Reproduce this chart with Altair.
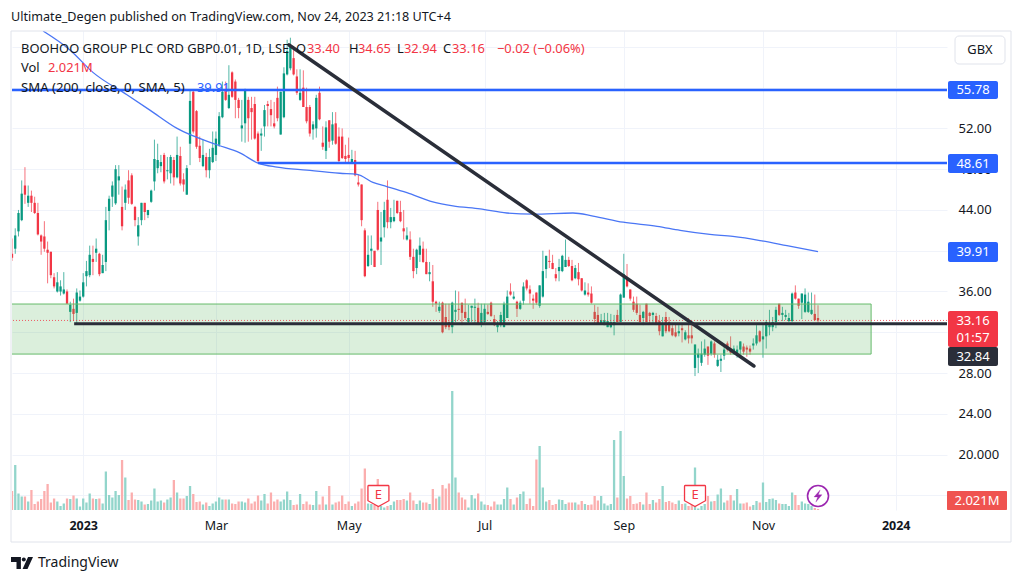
import altair as alt
import pandas as pd

FONT = "Noto Sans"
UP, DOWN = "#089981", "#f23645"
UPV, DOWNV = "#92d5cb", "#fbaeae"
BLUE = "#2962ff"
DARK = "#2a2e39"

opens = [39.7,40.2,41.9,43.0,46.4,44.7,45.4,44.7,43.7,41.5,
 41.4,40.1,39.9,37.4,36.0,36.0,35.8,36.0,34.0,34.3,
 33.9,35.1,35.5,37.5,37.6,39.2,39.8,39.7,37.8,38.9,
 43.9,45.3,44.65,46.9,44.3,44.7,46.9,47.4,44.3,41.4,
 43.0,44.7,43.5,44.8,46.8,48.1,48.3,49.4,47.8,47.6,
 48.9,47.2,49.3,47.0,45.5,50.5,55.6,53.7,50.3,48.3,
 49.2,47.9,48.7,49.4,50.4,53.1,55.8,54.0,57.5,56.6,
 54.8,52.0,52.5,54.8,54.0,54.4,51.5,51.3,52.2,54.4,
 53.9,52.5,55.0,51.4,53.1,57.3,57.9,58.9,57.1,54.8,
 56.0,54.1,54.1,51.9,52.0,55.5,50.6,49.8,52.8,50.8,
 52.5,51.2,51.2,49.3,49.4,48.7,48.9,46.7,46.5,42.0,
 38.5,40.0,40.0,44.0,40.9,42.3,45.0,42.8,42.9,44.9,
 43.8,42.2,41.1,41.1,39.4,38.3,39.6,40.2,38.9,37.7,
 37.0,35.0,34.1,34.9,33.5,33.0,32.5,34.0,34.3,34.9,
 34.0,33.0,34.4,34.4,34.4,32.8,33.0,34.0,34.9,33.3,
 32.5,32.7,32.5,33.4,36.0,35.3,35.0,34.3,35.1,37.1,
 36.2,35.3,35.9,34.6,35.5,38.2,39.0,38.8,37.7,38.0,
 38.0,38.4,39.1,38.5,37.3,37.9,37.3,35.7,35.9,35.8,
 34.0,33.7,32.8,32.7,32.5,32.5,32.7,33.7,33.0,35.4,
 37.4,36.2,35.0,34.8,33.7,33.4,34.8,33.9,33.7,33.6,
 33.1,31.6,33.5,33.0,32.4,32.0,31.9,32.4,31.3,31.7,
 31.7,28.5,29.5,29.0,29.8,30.6,29.9,30.9,28.7,29.2,
 29.7,30.9,30.4,30.1,29.8,30.3,30.6,30.5,30.4,30.7,
 30.9,32.1,31.3,31.6,32.5,32.5,33.0,34.8,33.7,33.5,
 33.1,33.1,35.9,35.3,34.9,34.0,34.0,33.8,33.8,33.40]
highs = [41.2,42.2,44.0,46.9,48.2,46.4,45.9,45.3,44.7,41.6,
 42.9,40.9,39.9,37.8,37.9,37.1,37.9,36.2,35.0,35.3,
 36.3,36.1,37.8,39.0,40.5,40.5,41.2,39.8,39.6,44.3,
 45.4,46.8,48.4,48.4,46.3,46.5,47.9,47.6,44.4,43.3,
 44.7,44.7,44.0,46.0,50.9,50.5,49.4,49.6,49.2,49.4,
 49.2,51.2,50.2,47.6,48.4,55.8,55.8,53.8,51.2,50.9,
 49.6,50.0,51.7,51.7,53.6,56.6,56.6,58.2,57.6,56.8,
 55.0,54.8,55.9,55.1,55.1,55.1,51.7,52.0,54.3,54.7,
 54.8,54.6,56.1,55.6,58.0,60.7,60.9,60.0,57.8,57.8,
 57.7,56.0,54.3,52.7,55.3,56.1,52.2,52.7,52.8,53.6,
 53.6,52.1,52.0,50.4,51.1,49.9,49.8,47.5,46.5,42.2,
 41.5,41.5,39.9,44.8,43.8,44.8,46.9,44.2,45.0,44.9,
 44.9,44.0,42.3,41.9,40.2,40.2,41.3,40.9,40.2,38.9,
 38.6,35.1,35.0,35.0,34.8,34.8,35.0,36.1,36.0,34.9,
 35.3,34.7,34.6,35.3,34.9,34.8,34.8,34.7,35.0,33.7,
 33.1,34.0,35.0,36.1,36.8,36.0,35.1,35.1,36.9,37.2,
 36.6,35.7,35.9,36.6,40.0,39.5,40.1,39.6,38.3,39.2,
 39.6,41.1,39.4,39.1,38.6,38.8,37.3,36.9,36.8,36.5,
 34.7,34.5,33.8,33.9,33.9,33.8,33.7,34.2,35.8,39.7,
 38.7,36.2,35.5,35.5,34.7,34.1,34.8,34.0,34.0,33.9,
 33.7,33.5,34.0,33.5,32.7,32.9,32.7,32.9,32.2,33.4,
 32.9,30.8,30.4,31.1,31.3,30.6,31.2,31.1,29.8,29.8,
 30.6,31.1,31.6,30.7,30.7,31.1,30.9,30.7,30.7,31.4,
 32.7,32.2,32.7,33.2,34.2,33.5,34.5,34.8,34.5,34.2,
 33.9,35.9,36.6,35.3,35.8,36.3,35.9,35.9,35.7,34.65]
lows = [39.0,39.7,41.4,42.9,44.6,44.3,43.8,43.6,41.5,39.6,
 39.9,36.8,37.3,36.3,35.9,35.6,35.7,34.8,33.0,33.1,
 32.9,35.0,35.4,36.5,37.4,37.6,38.9,37.5,37.8,38.0,
 42.0,44.3,44.5,45.5,42.0,44.0,44.6,44.5,42.4,40.5,
 42.5,43.0,43.2,44.7,45.9,47.6,47.7,46.6,47.0,46.6,
 46.4,47.1,46.4,45.8,45.5,48.4,51.5,50.0,48.7,48.2,
 47.2,47.1,48.6,48.8,50.2,53.0,54.7,53.9,55.0,53.0,
 53.0,50.7,50.6,50.7,50.9,50.9,48.6,49.8,51.2,52.2,
 52.2,52.0,52.7,51.4,53.0,57.2,57.7,57.2,55.3,54.7,
 54.1,52.5,51.2,50.9,51.1,52.8,49.9,49.0,50.1,50.4,
 50.4,48.6,49.0,48.7,48.6,48.6,47.3,46.3,42.4,37.4,
 38.4,38.6,38.4,40.0,38.6,41.3,42.2,42.2,42.8,43.6,
 42.8,41.1,41.0,39.1,37.3,37.7,38.9,38.8,37.7,37.0,
 34.5,34.0,33.9,31.9,32.3,32.2,31.9,33.0,33.2,32.7,
 33.2,32.9,33.0,32.8,32.7,32.5,32.8,33.7,33.5,32.6,
 32.0,32.5,32.5,33.4,35.6,35.2,33.5,34.2,34.7,36.1,
 34.8,34.3,34.7,34.4,35.4,37.3,38.3,38.2,37.0,37.0,
 37.9,38.4,38.4,37.0,37.2,36.6,36.0,35.6,35.5,34.8,
 32.9,32.8,32.8,32.7,32.5,32.4,31.7,33.0,33.0,35.4,
 36.4,35.1,34.0,33.7,33.0,32.7,33.0,32.8,32.8,32.7,
 31.7,31.6,31.9,32.0,31.6,31.5,31.6,31.0,31.2,30.9,
 30.9,27.7,28.0,28.7,29.6,28.8,29.7,29.5,28.6,28.1,
 29.3,30.1,29.8,29.8,29.5,29.8,29.8,29.6,29.8,30.3,
 30.7,31.0,29.5,30.4,31.7,32.1,32.4,33.6,33.1,33.2,
 33.0,33.0,35.2,34.3,33.3,33.9,33.9,33.7,33.1,32.94]
closes = [39.3,41.5,43.7,45.6,45.5,45.4,44.7,43.7,41.6,40.9,
 40.2,39.8,37.6,36.5,36.9,36.5,36.2,34.8,34.7,33.8,
 35.9,35.5,36.9,38.0,39.6,38.9,40.2,37.7,38.6,43.0,
 45.1,46.4,48.0,47.3,42.4,46.0,45.2,44.6,43.0,42.5,
 44.7,43.8,44.0,45.9,49.0,48.9,48.7,46.8,47.9,49.2,
 47.2,49.4,46.6,46.5,48.1,54.7,51.7,50.2,49.1,49.4,
 47.9,49.2,50.1,51.0,53.2,55.6,54.8,55.3,55.1,54.8,
 54.0,52.3,55.8,53.0,53.6,51.0,48.8,51.5,53.8,54.2,
 53.3,52.2,53.0,55.6,57.4,59.6,60.0,57.3,55.5,55.5,
 54.1,52.7,51.5,52.4,55.0,52.9,50.2,52.1,50.7,52.4,
 50.5,48.8,49.1,49.0,49.1,49.0,47.4,46.5,43.0,37.5,
 39.6,40.2,38.4,40.1,41.3,44.0,42.8,43.3,43.3,43.7,
 42.9,41.9,41.5,39.4,38.0,40.1,40.5,38.9,37.7,37.9,
 35.0,34.8,34.5,32.0,32.5,32.5,34.9,34.2,34.2,33.9,
 33.4,33.4,34.6,34.5,32.8,33.9,34.3,33.8,33.6,32.7,
 32.9,33.7,34.8,35.5,35.7,35.5,34.3,34.9,36.5,36.3,
 35.8,35.1,34.9,36.6,38.0,39.5,38.9,38.2,37.3,38.4,
 39.5,39.1,38.5,37.1,38.3,37.2,36.1,36.1,35.7,34.9,
 33.3,32.8,33.2,33.2,33.1,33.0,33.0,33.0,35.7,37.7,
 36.5,35.3,34.2,33.9,33.0,34.0,33.0,33.6,33.9,32.9,
 32.1,32.7,32.1,32.1,31.7,31.6,32.1,32.2,32.0,31.4,
 31.4,30.8,29.9,29.9,30.4,29.7,31.1,29.8,29.3,29.4,
 30.3,30.3,30.0,30.4,30.3,31.1,30.1,30.3,30.1,30.9,
 31.7,31.1,31.6,33.0,32.8,33.0,34.2,33.7,33.9,33.7,
 33.4,35.8,35.3,34.6,35.8,35.7,35.0,34.2,33.2,33.16]
volumes = [38,90,33,27,27,17,40,12,17,22,38,52,15,23,17,8,13,23,22,29,
 23,7,23,15,33,23,22,23,13,77,30,25,38,30,100,65,20,35,21,20,
 17,11,12,19,43,17,19,15,21,25,60,35,23,23,28,48,32,16,17,11,
 15,8,13,17,25,21,21,21,13,12,17,17,15,23,13,17,29,19,32,13,
 35,17,21,17,21,37,20,10,11,32,12,17,11,10,38,11,27,11,48,11,
 15,17,29,12,17,8,13,17,43,83,13,12,10,62,8,5,8,10,17,20,
 20,22,19,35,19,12,19,15,15,12,42,23,27,50,43,53,238,65,35,25,
 21,5,30,23,33,17,11,10,7,17,11,11,22,45,22,11,25,32,37,12,
 23,8,101,128,45,17,20,10,12,21,20,12,15,15,15,11,18,12,10,11,
 28,19,28,13,9,12,140,25,158,68,23,28,12,13,16,11,35,12,20,15,
 22,48,16,18,15,12,19,12,13,8,10,85,3,8,12,28,17,18,31,43,
 15,19,30,19,42,13,13,15,7,10,18,15,55,16,22,23,20,13,12,12,
 8,35,30,10,17,13,12,8,4,2]

sma_idx = [9.6,17.9,25.0,35.5,42.6,51.0,63.3,70.4,76.0,81.9,91.1,101.3,106.6,111.5,115.8,122.0,130.0,136.2,144.6,152.9,161.0,173.3,179.5,188.8,199.3,206.4,215.6,222.7,231.1,239.4,249.0]
sma_val = [61.56,59.7,57.5,55.3,53.8,52.0,50.4,49.6,48.6,48.2,47.9,47.6,47.5,46.7,46.3,45.7,44.8,44.4,44.1,43.7,43.6,43.7,43.4,42.8,42.4,42.0,41.6,41.4,41.0,40.5,39.91]

time_ticks = [22, 63, 104, 146, 189, 232, 273]
time_labels = ["2023", "Mar", "May", "Jul", "Sep", "Nov", "2024"]
price_ticks = [16,20,24,28,32,36,40,44,48,52,56,60]
price_labelled = [20,24,28,36,44,48,52]

n = min(len(opens), len(highs), len(lows), len(closes), len(volumes))
df = pd.DataFrame({"i": range(n), "o": opens[:n], "h": highs[:n], "l": lows[:n], "c": closes[:n], "v": volumes[:n]})
df["col"] = [UP if c >= o else DOWN for o, c in zip(df.o, df.c)]
df["vcol"] = [UPV if c >= o else DOWNV for o, c in zip(df.o, df.c)]

W, H = 935, 479
XDOM = [0, W / 3.237]
YDOM = [14.56, 61.56]
xs = alt.Scale(domain=XDOM, nice=False, zero=False, padding=0)
ys = alt.Scale(domain=YDOM, nice=False, zero=False)
vs = alt.Scale(domain=[0, 958], nice=False, zero=False)

label_map = "{" + ",".join(f"{t}:'{l}'" for t, l in zip(time_ticks, time_labels)) + "}"
x_axis = alt.Axis(values=time_ticks, title=None, domain=False, ticks=False, grid=True, gridColor="#f0f3fa",
                  labelExpr=f"{label_map}[datum.value]", labelFont=FONT, labelFontSize=12.5, labelColor="#131722",
                  labelPadding=9, labelFlush=False, labelOverlap=False,
                  labelFontWeight=alt.expr("datum.value==22||datum.value==273?'bold':'normal'"))
shown = "[" + ",".join(str(p) for p in price_labelled) + "]"
y_axis = alt.Axis(values=price_ticks, title=None, orient="right", domain=False, ticks=False, grid=True, gridColor="#f0f3fa",
                  labelExpr=f"indexof({shown},datum.value)<0?'':(datum.value==20?'20.000':format(datum.value,'.2f'))",
                  labelFont=FONT, labelFontSize=13,
                  labelColor="#131722", labelPadding=11, labelFlush=False, labelOverlap=False)
X = lambda f="i": alt.X(f"{f}:Q", scale=xs, axis=None)
Y = lambda f: alt.Y(f"{f}:Q", scale=ys, axis=None)

base = alt.Chart(df)
vol = base.mark_bar(size=2.3, clip=True).encode(
    x=alt.X("i:Q", scale=xs, axis=x_axis),
    y=alt.Y("v:Q", scale=vs, axis=None), color=alt.Color("vcol:N", scale=None))
grid = alt.Chart(pd.DataFrame({"p": [28.0]})).mark_rule(opacity=0).encode(y=alt.Y("p:Q", scale=ys, axis=y_axis))

wick = base.mark_rule(strokeWidth=1, opacity=0.7, clip=True).encode(
    x=X(), y=Y("l"), y2="h:Q", color=alt.Color("col:N", scale=None))
body = base.mark_bar(size=2.3, clip=True).encode(
    x=X(), y=Y("o"), y2="c:Q", color=alt.Color("col:N", scale=None))

sma = alt.Chart(pd.DataFrame({"i": sma_idx, "p": sma_val})).mark_line(
    color="#4a76f5", strokeWidth=1.3, clip=True, interpolate="monotone").encode(x=X(), y=Y("p"))

zone = alt.Chart(pd.DataFrame({"a": [-1.0], "b": [265.4], "t": [34.77], "u": [29.86]})).mark_rect(
    fill="#4caf50", fillOpacity=0.2, stroke="#66bb6a", strokeWidth=1, clip=True).encode(
    x=X("a"), x2="b:Q", y=Y("t"), y2="u:Q")

last = alt.Chart(pd.DataFrame({"p": [33.16]})).mark_rule(color=DOWN, strokeWidth=1, strokeDash=[1, 2], opacity=.8).encode(y=Y("p"))
blue1 = alt.Chart(pd.DataFrame({"p": [55.78]})).mark_rule(color=BLUE, strokeWidth=2.5).encode(y=Y("p"))
hseg = pd.DataFrame({"a": [76.0, 19.2], "b": XDOM[1:] * 2, "p": [48.61, 32.84], "c": [BLUE, DARK], "w": [2.5, 3.0]})
segs = alt.Chart(hseg).mark_rule().encode(x=X("a"), x2="b:Q", y=Y("p"), color=alt.Color("c:N", scale=None),
                                          strokeWidth=alt.StrokeWidth("w:Q", scale=None))
trend = alt.Chart(pd.DataFrame({"i": [85.6, 229.2], "p": [60.19, 28.69]})).mark_line(
    color=DARK, strokeWidth=3.5, strokeCap="round").encode(x=X(), y=Y("p"))


def txt(s, x, y, color="#131722", size=12.9, weight="normal", align="left", font=FONT):
    return alt.Chart(pd.DataFrame({"t": [s]})).mark_text(
        align=align, baseline="middle", color=color, fontSize=size, fontWeight=weight, font=font).encode(
        text="t:N", x=alt.value(x - 12), y=alt.value(y - 31))


def box(x0, y0, x1, y1, fill, stroke=None, radius=2):
    kw = {"stroke": stroke} if stroke else {}
    return alt.Chart(pd.DataFrame({"k": [0]})).mark_rect(fill=fill, cornerRadius=radius, **kw).encode(
        x=alt.value(x0 - 12), x2=alt.value(x1 - 12), y=alt.value(y0 - 31), y2=alt.value(y1 - 31))


frame = alt.Chart(pd.DataFrame({"k": [0]})).mark_rect(fillOpacity=0, stroke="#e0e3eb", strokeWidth=1).encode(
    x=alt.value(-1), x2=alt.value(999), y=alt.value(0), y2=alt.value(511))

FLAG = "M-0.95 -1 H0.95 Q1 -1 1 -0.9 V0.45 L0 1 L-1 0.45 V-0.9 Q-1 -1 -0.95 -1 Z"
flags = alt.Chart(pd.DataFrame({"i": [113.2, 211.0]})).mark_point(
    shape=FLAG, size=440, fill="#ffffff", fillOpacity=1, stroke=DOWN, strokeWidth=1.3).encode(
    x=X(), y=alt.value(465))
flag_text = alt.Chart(pd.DataFrame({"i": [113.2, 211.0], "t": ["E", "E"]})).mark_text(
    color=DOWN, fontSize=13, font=FONT, baseline="middle").encode(
    x=X(), y=alt.value(464), text="t:N")
bolt = alt.Chart(pd.DataFrame({"i": [249.0]})).mark_point(
    shape="circle", size=440, fill="#ffffff", fillOpacity=1, stroke="#9c27b0", strokeWidth=1.6).encode(
    x=X(), y=alt.value(465))
BOLT = "M0.35 -1 L-0.65 0.15 H-0.05 L-0.35 1 L0.65 -0.2 H0.05 Z"
bolt2 = alt.Chart(pd.DataFrame({"i": [249.0]})).mark_point(
    shape=BOLT, size=150, fill="#9c27b0", fillOpacity=1, stroke="#9c27b0", strokeWidth=0.3).encode(
    x=X(), y=alt.value(465))

LOGO = "M-1 -0.55 H-0.1 V0.55 H-0.5 V-0.1 H-1 Z M0.05 0.55 L0.55 -0.55 H1 L0.5 0.55 Z"
logo = alt.Chart(pd.DataFrame({"k": [0]})).mark_point(shape=LOGO, size=484, fill="#131722", fillOpacity=1, strokeWidth=0).encode(
    x=alt.value(10), y=alt.value(532))
logo_dot = alt.Chart(pd.DataFrame({"k": [0]})).mark_point(shape="circle", size=16, fill="#131722", fillOpacity=1, strokeWidth=0).encode(
    x=alt.value(11.8), y=alt.value(528.5))

WHITE = "#ffffff"
layers = [
    grid, vol, wick, body, sma, zone, last, blue1, segs, trend, frame,
    flags, flag_text, bolt, bolt2,
    txt("BOOHOO GROUP PLC ORD GBP0.01, 1D, LSE", 21, 49),
    txt("O", 296, 49), txt("33.40", 307, 49, DOWN),
    txt("H", 349, 49), txt("34.65", 358, 49, DOWN),
    txt("L", 397, 49), txt("32.94", 404, 49, DOWN),
    txt("C", 443, 49), txt("33.16", 452, 49, DOWN),
    txt("\u22120.02 (\u22120.06%)", 497, 49, DOWN),
    txt("Vol", 21, 68), txt("2.021M", 48, 68, DOWN),
    txt("SMA (200, close, 0, SMA, 5)", 21, 88, size=13.2), txt("39.91", 197, 88, BLUE),
    box(955, 36, 1005, 64, WHITE, "#e0e3eb", 4), txt("GBX", 980, 50, align="center"),
    box(948, 81, 998, 99, BLUE), txt("55.78", 973, 90, WHITE, size=13, align="center"),
    box(948, 154, 998, 173, BLUE), txt("48.61", 973, 163.5, WHITE, size=13, align="center"),
    box(948, 242, 998, 262, BLUE), txt("39.91", 973, 252, WHITE, size=13, align="center"),
    box(948, 311, 998, 347, DOWN), txt("33.16", 973, 321, WHITE, size=13, align="center"), txt("01:57", 973, 337.5, WHITE, size=13, align="center"),
    box(948, 347, 998, 366, DARK), txt("32.84", 973, 356.5, WHITE, size=13, align="center"),
    box(947, 491, 1007, 510, "#ef5350", radius=1), txt("2.021M", 977, 501, WHITE, size=13, align="center"),
    txt("Ultimate_Degen published on TradingView.com, Nov 24, 2023 21:18 UTC+4", 11, 17, size=12.6),
    logo, logo_dot,
    txt("TradingView", 38, 563, size=14),
]

chart = alt.layer(*layers).resolve_scale(y="independent").resolve_axis(x="independent", y="independent").properties(
    width=W, height=H, autosize=alt.AutoSizeParams(type="none"),
    padding={"left": 4, "top": 23, "right": 69, "bottom": 65},
).configure_view(stroke=None)

chart.save("out.html", embed_options={"renderer": "svg", "actions": False})
